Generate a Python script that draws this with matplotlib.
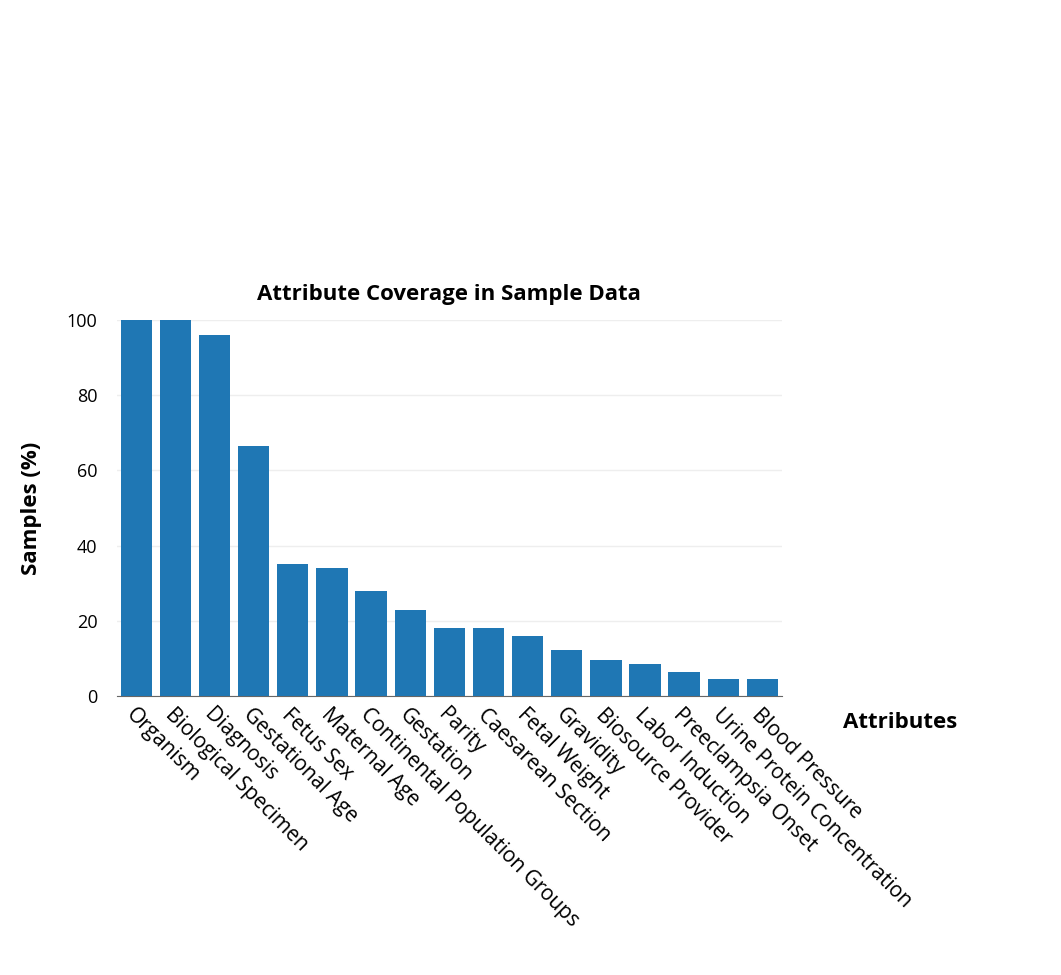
import matplotlib
matplotlib.use("Agg")
import matplotlib.pyplot as plt

categories = ["Organism", "Biological Specimen", "Diagnosis", "Gestational Age", "Fetus Sex",
              "Maternal Age", "Continental Population Groups", "Gestation", "Parity",
              "Caesarean Section", "Fetal Weight", "Gravidity", "Biosource Provider",
              "Labor Induction", "Preeclampsia Onset", "Urine Protein Concentration", "Blood Pressure"]
values = [100, 100, 96, 66.5, 35, 34, 28, 23, 18, 18, 16, 12.3, 9.5, 8.5, 6.5, 4.5, 4.5]
yticks = [0, 20, 40, 60, 80, 100]

plt.rcParams["font.family"] = "Open Sans"
fig = plt.figure(figsize=(10.61, 9.75), dpi=100)
ax = fig.add_axes([0.110, 0.286, 0.627, 0.386])
x = range(len(categories))
ax.bar(x, values, width=0.8, color="#1f77b4", zorder=3)
ax.set_xlim(-0.5, len(categories) - 0.5)
ax.set_ylim(0, 100)
ax.set_yticks(yticks)
ax.set_yticklabels([str(t) for t in yticks], fontsize=13)
ax.yaxis.grid(True, color="#eeeeee", lw=1, zorder=0)
for s in ["top", "right", "left"]:
    ax.spines[s].set_visible(False)
ax.spines["bottom"].set_color("#666666")
ax.tick_params(axis="y", length=0, pad=14)
ax.tick_params(axis="x", length=0, pad=6)
ax.set_xticks(list(x))
ax.set_xticklabels(categories, rotation=-45, ha="left", rotation_mode="anchor", fontsize=15)
ax.set_ylabel("Samples (%)", fontsize=16, fontweight="bold", labelpad=18)
ax.set_title("Attribute Coverage in Sample Data", fontsize=16, fontweight="bold", pad=14)
fig.text(0.848, 0.259, "Attributes", fontsize=16, fontweight="bold", ha="center", va="center")
fig.savefig("out.png", dpi=100)
